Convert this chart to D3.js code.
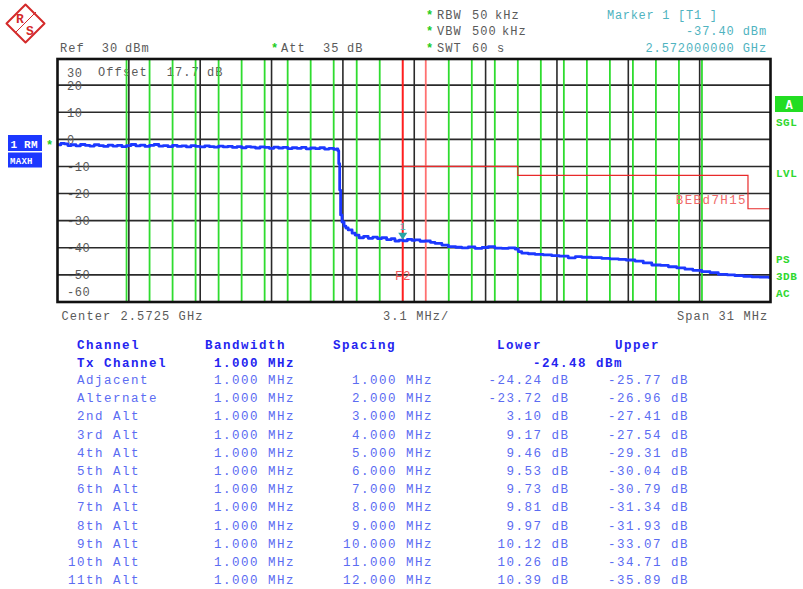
<!DOCTYPE html>
<html>
<head>
<meta charset="utf-8">
<script src="https://cdn.jsdelivr.net/npm/d3@7"></script>
<style>
html,body{margin:0;padding:0;background:#fff}
svg{display:block}
text{font-family:"Liberation Mono","DejaVu Sans Mono",monospace;white-space:pre}
</style>
</head>
<body>
<svg id="c" width="803" height="589"></svg>
<script>
// spectrum analyzer ACP screenshot: trace + channel table
const DB_TICKS = [20, 10, 0, -10, -20, -30, -40, -50];
const CENTER_MHZ = 2572.5, SPAN_MHZ = 31;
const TX_BW = 1.0, TX_POWER = -24.48, CH_BW = 1.0;

const CH_NAMES = ["Adjacent", "Alternate", "2nd Alt", "3rd Alt", "4th Alt", "5th Alt",
  "6th Alt", "7th Alt", "8th Alt", "9th Alt", "10th Alt", "11th Alt"];
const CH_SPACING = [1, 2, 3, 4, 5, 6, 7, 8, 9, 10, 11, 12];
const CH_LOWER = [-24.24, -23.72, 3.10, 9.17, 9.46, 9.53, 9.73, 9.81, 9.97, 10.12, 10.26, 10.39];
const CH_UPPER = [-25.77, -26.96, -27.41, -27.54, -29.31, -30.04, -30.79, -31.34, -31.93, -33.07, -34.71, -35.89];

// limit line [MHz, dBm]
const LIMIT = [[2572, -10], [2577, -10], [2577, -13.3], [2587, -13.3], [2587, -25.6], [2588, -25.6]];

// trace 1 (max hold) [MHz, dBm]
const TRACE = [
  [2557.0, -2.0], [2557.15, -1.5], [2557.3, -1.7], [2557.45, -2.3], [2557.6, -2.0], [2557.8, -2.4],
  [2558.0, -1.9], [2558.2, -2.2], [2558.4, -2.5], [2558.6, -2.0], [2558.8, -2.3], [2559.0, -2.6],
  [2559.2, -2.1], [2559.4, -2.5], [2559.6, -2.2], [2559.8, -2.7], [2560.0, -2.3], [2560.2, -1.9],
  [2560.4, -2.4], [2560.6, -2.1], [2560.8, -2.6], [2561.0, -2.2], [2561.2, -1.9], [2561.4, -2.5],
  [2561.6, -2.3], [2561.8, -2.7], [2562.0, -2.2], [2562.2, -2.6], [2562.4, -2.4], [2562.6, -2.8],
  [2562.8, -2.3], [2563.0, -2.6], [2563.2, -2.8], [2563.4, -2.4], [2563.6, -2.7], [2563.8, -2.9],
  [2564.0, -2.5], [2564.2, -2.8], [2564.4, -2.6], [2564.6, -3.0], [2564.8, -2.7], [2565.0, -3.1],
  [2565.2, -2.7], [2565.4, -2.9], [2565.6, -3.2], [2565.8, -2.8], [2566.0, -3.0], [2566.2, -3.3],
  [2566.4, -2.9], [2566.6, -3.2], [2566.8, -3.0], [2567.0, -3.4], [2567.2, -3.1], [2567.4, -3.3],
  [2567.6, -3.0], [2567.8, -3.5], [2568.0, -3.2], [2568.2, -3.4], [2568.4, -3.1], [2568.6, -3.6],
  [2568.8, -3.3], [2569.0, -3.7], [2569.12, -3.5],
  [2569.18, -4.2], [2569.22, -9.0], [2569.26, -18.7], [2569.3, -27.9], [2569.36, -30.5],
  [2569.45, -32.0], [2569.53, -32.7], [2569.63, -33.4], [2569.8, -34.6], [2569.93, -35.3],
  [2570.1, -36.3], [2570.3, -35.8], [2570.5, -36.5], [2570.7, -36.1], [2570.9, -36.6],
  [2571.09, -36.3], [2571.3, -37.0], [2571.5, -36.6], [2571.66, -37.5], [2571.85, -37.2],
  [2572.0, -37.4], [2572.2, -36.9], [2572.4, -37.3], [2572.53, -37.1], [2572.75, -37.6],
  [2572.97, -37.5], [2573.2, -38.0], [2573.4, -38.35], [2573.7, -39.0], [2573.98, -39.6],
  [2574.3, -39.8], [2574.56, -40.0], [2574.85, -39.7], [2575.14, -40.2], [2575.45, -39.9],
  [2575.72, -39.6], [2576.0, -40.1], [2576.3, -40.2], [2576.6, -40.0], [2576.88, -40.45],
  [2577.02, -41.4], [2577.17, -42.0], [2577.45, -42.2], [2577.74, -42.4], [2578.1, -42.6],
  [2578.47, -42.9], [2578.8, -43.1], [2579.19, -43.7], [2579.5, -43.3], [2579.78, -43.5],
  [2580.2, -43.6], [2580.64, -43.9], [2581.0, -44.1], [2581.37, -44.25], [2581.7, -44.5],
  [2582.09, -44.9], [2582.45, -45.6], [2582.82, -46.35], [2583.2, -46.5], [2583.54, -47.0],
  [2583.9, -47.4], [2584.26, -47.9], [2584.6, -48.3], [2584.99, -48.8], [2585.35, -49.2],
  [2585.71, -49.8], [2586.1, -50.0], [2586.43, -50.3], [2586.8, -50.5], [2587.16, -50.7],
  [2587.5, -50.8], [2587.88, -50.9], [2588.0, -50.7],
];
const MARKER = { f: 2572.0, db: -37.40 };

const GRAY = "#5a5a5a", TEAL = "#4fb3c0", GREEN = "#2fdc2f", RED = "#ff1f1f",
  BLUE = "#1c38ff", TBL_HEAD = "#2424f0", TBL_ROW = "#5b6cf2";

const svg = d3.select("#c");
const L = 57.5, R = 771, T = 58, B = 302;
const x = d3.scaleLinear().domain([CENTER_MHZ - SPAN_MHZ / 2, CENTER_MHZ + SPAN_MHZ / 2]).range([L, R]);
const y = d3.scaleLinear().domain([-60, 30]).range([B, T]);

const txt = (s, px, py, o = {}) => svg.append("text")
  .attr("x", px).attr("y", py)
  .attr("text-anchor", o.anchor || "start")
  .attr("fill", o.fill || GRAY)
  .attr("font-size", o.size || 12)
  .attr("font-weight", o.bold ? "bold" : null)
  .attr("letter-spacing", o.ls != null ? o.ls : 1.1)
  .text(s);

// ── R&S logo ──
const logo = svg.append("g").attr("stroke", "#d42a2a").attr("fill", "none");
logo.append("path").attr("d", "M25.5 4.5 L44.5 23.5 L25.5 42.5 L6.5 23.5 Z")
  .attr("stroke-width", 2).attr("stroke-linejoin", "round");
[-3, 0, 3].forEach(o => logo.append("line")
  .attr("x1", 18 + o).attr("y1", 30 - o).attr("x2", 33 + o).attr("y2", 15 - o).attr("stroke-width", 1));
svg.append("text").attr("x", 16).attr("y", 23).attr("fill", "#d42a2a")
  .attr("font-size", 13).attr("font-weight", "bold").text("R");
svg.append("text").attr("x", 26).attr("y", 35).attr("fill", "#d42a2a")
  .attr("font-size", 13).attr("font-weight", "bold").text("S");

// ── header texts ──
txt("Ref", 60, 51.5); txt("30", 101.7, 51.5); txt("dBm", 125, 51.5);
txt("*", 271, 51.5, { fill: "#22cc22", bold: true }); txt("Att", 281, 51.5);
txt("35", 323, 51.5); txt("dB", 347, 51.5);
[["RBW", "50", "kHz", 495, 18.5], ["VBW", "500", "kHz", 502, 35], ["SWT", "60", "s", 497, 52]]
  .forEach(([a, b, c, cx, by]) => {
    txt("*", 426, by, { fill: "#22cc22", bold: true });
    txt(a, 437, by); txt(b, 472, by); txt(c, cx, by);
  });
txt("Marker 1 [T1 ]", 607, 18.5, { fill: TEAL, ls: 0.7 });
txt(MARKER.db.toFixed(2) + " dBm", 767, 35, { fill: TEAL, anchor: "end", ls: 0.9 });
txt((MARKER.f / 1000).toFixed(9) + " GHz", 767, 52, { fill: TEAL, anchor: "end", ls: 0.9 });

// ── grid ──
const grid = svg.append("g").attr("stroke", "#2a2a2a").attr("stroke-width", 1.6);
DB_TICKS.forEach(v => grid.append("line")
  .attr("x1", L).attr("x2", R).attr("y1", y(v)).attr("y2", y(v)));
d3.range(1, 10).forEach(i => {
  const f = x.domain()[0] + i * SPAN_MHZ / 10;
  grid.append("line").attr("x1", x(f)).attr("x2", x(f)).attr("y1", T).attr("y2", B);
});

// y labels
DB_TICKS.forEach(v => txt(String(v), 67, y(v) + 4.5, { ls: 0.6 }));
txt("30", 67, 76.5, { ls: 0.6 });
txt("-60", 67, 296, { ls: 0.6 });
txt("Offset", 98, 75.5); txt("17.7", 166.7, 75.5); txt("dB", 207, 75.5);

// ── channel edges ──
const edges = [];
CH_SPACING.forEach(s => [-1, 1].forEach(sd => {
  const c = CENTER_MHZ + sd * s;
  edges.push(c - CH_BW / 2, c + CH_BW / 2);
}));
const txEdges = [CENTER_MHZ - TX_BW / 2, CENTER_MHZ + TX_BW / 2];
svg.append("g").selectAll("line")
  .data(Array.from(new Set(edges)).filter(f => !txEdges.includes(f)))
  .join("line")
  .attr("x1", d => x(d)).attr("x2", d => x(d)).attr("y1", T).attr("y2", B)
  .attr("stroke", GREEN).attr("stroke-width", 1.8);
svg.append("line").attr("x1", x(txEdges[0])).attr("x2", x(txEdges[0]))
  .attr("y1", T).attr("y2", B).attr("stroke", RED).attr("stroke-width", 2);
svg.append("line").attr("x1", x(txEdges[1])).attr("x2", x(txEdges[1]))
  .attr("y1", T).attr("y2", B).attr("stroke", "#ff7070").attr("stroke-width", 1.8);

// ── limit line ──
svg.append("path").datum(LIMIT)
  .attr("d", d3.line().x(d => x(d[0])).y(d => y(d[1])))
  .attr("fill", "none").attr("stroke", "#e82a2a").attr("stroke-width", 1.2);
txt("BEBd7H15", 747, 204, { fill: "#f06a6a", anchor: "end", size: 12.5, ls: 1.4 });
txt("F2", 395, 280, { fill: "#f05a5a", size: 12.5, ls: 0.5 });

// ── trace ──
svg.append("clipPath").attr("id", "pc").append("rect")
  .attr("x", L).attr("y", T).attr("width", R - L).attr("height", B - T);
svg.append("path").datum(TRACE)
  .attr("clip-path", "url(#pc)")
  .attr("d", d3.line().x(d => x(d[0])).y(d => y(d[1])).curve(d3.curveStepAfter))
  .attr("fill", "none").attr("stroke", BLUE).attr("stroke-width", 2.8)
  .attr("stroke-linejoin", "round");

// marker 1
const mx = x(MARKER.f), my = y(MARKER.db);
svg.append("path").attr("d", `M${mx - 4.5},${my - 8} L${mx + 4.5},${my - 8} L${mx},${my - 1} Z`)
  .attr("fill", "#2aa5a5");
txt("1", mx, my - 11, { fill: TEAL, size: 10, anchor: "middle", ls: 0 });

// frame
svg.append("rect").attr("x", L).attr("y", T + 1).attr("width", R - L - 0.5).attr("height", B - T - 1)
  .attr("fill", "none").attr("stroke", "#111").attr("stroke-width", 2.6);

// ── left / right status labels ──
svg.append("rect").attr("x", 8).attr("y", 135).attr("width", 34).attr("height", 16).attr("fill", BLUE);
txt("1 RM", 10.5, 147.5, { fill: "#fff", bold: true, size: 11, ls: 0.2 });
svg.append("rect").attr("x", 8).attr("y", 152.5).attr("width", 34).attr("height", 15).attr("fill", BLUE);
txt("MAXH", 10, 164, { fill: "#fff", bold: true, size: 9, ls: 0.3 });
txt("*", 46, 149, { fill: "#22cc22", bold: true, ls: 0 });

svg.append("rect").attr("x", 775).attr("y", 96).attr("width", 28).attr("height", 16).attr("fill", "#22dd22");
txt("A", 789, 108.5, { fill: "#fff", bold: true, size: 12, anchor: "middle", ls: 0 });
[["SGL", 125.5], ["LVL", 177], ["PS", 263], ["3DB", 279.5], ["AC", 296.5]]
  .forEach(([s, by]) => txt(s, 776, by, { fill: "#2fd82f", bold: true, size: 11, ls: 0.5 }));

// ── bottom axis texts ──
txt("Center", 61.5, 319.5); txt("2.5725 GHz", 120.5, 319.5);
txt((SPAN_MHZ / 10).toFixed(1) + " MHz/", 383, 319.5);
txt("Span " + SPAN_MHZ + " MHz", 677, 319.5);

// ── ACP table ──
const T_OPT = { size: 12.5, ls: 1.5 };
const H = { ...T_OPT, fill: TBL_HEAD, bold: true };
txt("Channel", 77, 349, H); txt("Bandwidth", 205, 349, H); txt("Spacing", 333, 349, H);
txt("Lower", 497, 349, H); txt("Upper", 615, 349, H);
txt("Tx Channel", 77, 367, H);
txt(TX_BW.toFixed(3) + " MHz", 214, 367, H);
txt(TX_POWER.toFixed(2) + " dBm", 533, 367, H);

const rowY = d3.scaleLinear().domain([0, CH_NAMES.length - 1]).range([384, 584.3]);
const RW = { ...T_OPT, fill: TBL_ROW };
CH_NAMES.forEach((nm, i) => {
  const by = rowY(i);
  if (/Alt$/.test(nm)) txt(nm, 140, by, { ...RW, anchor: "end" });
  else txt(nm, 77, by, RW);
  txt(CH_BW.toFixed(3) + " MHz", 214, by, RW);
  txt(CH_SPACING[i].toFixed(3) + " MHz", 433, by, { ...RW, anchor: "end" });
  txt(CH_LOWER[i].toFixed(2) + " dB", 569.5, by, { ...RW, anchor: "end" });
  txt(CH_UPPER[i].toFixed(2) + " dB", 689, by, { ...RW, anchor: "end" });
});
</script>
</body>
</html>
